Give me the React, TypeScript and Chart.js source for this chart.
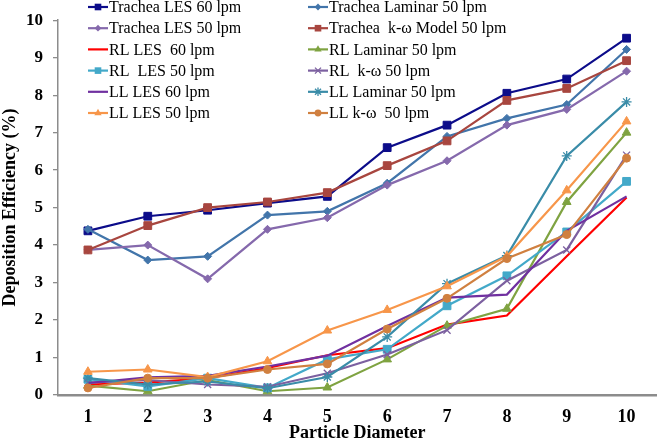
import React, { useEffect, useRef } from "react";
import { Chart, registerables } from "chart.js";

Chart.register(...registerables);

const categories = ["1", "2", "3", "4", "5", "6", "7", "8", "9", "10"];
const yTicks = [0, 1, 2, 3, 4, 5, 6, 7, 8, 9, 10];

const trLES60 = [4.38, 4.77, 4.93, 5.12, 5.30, 6.60, 7.20, 8.05, 8.43, 9.52];
const trLam50 = [4.42, 3.60, 3.70, 4.80, 4.90, 5.65, 6.90, 7.38, 7.75, 9.22];
const trLES50 = [3.87, 4.00, 3.10, 4.42, 4.73, 5.60, 6.25, 7.20, 7.62, 8.64];
const trKw50 = [3.87, 4.52, 5.00, 5.15, 5.40, 6.12, 6.78, 7.86, 8.18, 8.92];
const rlLES60 = [0.28, 0.33, 0.45, 0.72, 1.06, 1.25, 1.88, 2.12, 3.70, 5.27];
const rlLam50 = [0.25, 0.10, 0.40, 0.10, 0.20, 0.95, 1.85, 2.30, 5.15, 7.00];
const rlLES50 = [0.42, 0.23, 0.45, 0.19, 0.95, 1.22, 2.38, 3.18, 4.35, 5.70];
const rlKw50 = [0.33, 0.40, 0.28, 0.22, 0.58, 1.08, 1.73, 3.05, 3.87, 6.40];
const llLES60 = [0.32, 0.47, 0.51, 0.76, 1.05, 1.84, 2.60, 2.68, 4.38, 5.30];
const llLam50 = [0.45, 0.28, 0.36, 0.18, 0.48, 1.55, 2.97, 3.72, 6.38, 7.82];
const llLES50 = [0.62, 0.68, 0.48, 0.90, 1.72, 2.27, 2.90, 3.70, 5.46, 7.30];
const llKw50 = [0.19, 0.45, 0.45, 0.68, 0.83, 1.76, 2.58, 3.64, 4.28, 6.32];

const seriesLabels = [
  "Trachea LES 60 lpm",
  "Trachea Laminar 50 lpm",
  "Trachea LES 50 lpm",
  "Trachea  k-\u03c9 Model 50 lpm",
  "RL LES  60 lpm",
  "RL Laminar 50 lpm",
  "RL  LES 50 lpm",
  "RL  k-\u03c9 50 lpm",
  "LL LES 60 lpm",
  "LL Laminar 50 lpm",
  "LL LES 50 lpm",
  "LL k-\u03c9  50 lpm",
];
const seriesValues = [trLES60, trLam50, trLES50, trKw50, rlLES60, rlLam50, rlLES50, rlKw50, llLES60, llLam50, llLES50, llKw50];
const seriesColors = [
  "#0C0C8A", "#4275AA", "#8569AC", "#A8463F",
  "#FF0000", "#7FA341", "#43A9C9", "#7C60A0",
  "#7030A0", "#3A8CA8", "#F7964A", "#D08040",
];
const seriesMarkers = [
  "rect", "rectRot", "rectRot", "rect",
  "none", "triangle", "rect", "crossRot",
  "none", "star", "triangle", "circle",
];
const markerRadius: Record<string, number> = {
  rect: 5.5, rectRot: 4, triangle: 5, circle: 4, crossRot: 5, star: 5, none: 0,
};

function drawMarker(ctx: CanvasRenderingContext2D, style: string, x: number, y: number, r: number, color: string) {
  ctx.save();
  ctx.fillStyle = color;
  ctx.strokeStyle = color;
  ctx.lineWidth = 1.3;
  ctx.beginPath();
  if (style === "rect") {
    const s = r * Math.SQRT1_2;
    ctx.rect(x - s, y - s, 2 * s, 2 * s);
    ctx.fill();
  } else if (style === "rectRot") {
    ctx.moveTo(x, y - r);
    ctx.lineTo(x + r, y);
    ctx.lineTo(x, y + r);
    ctx.lineTo(x - r, y);
    ctx.closePath();
    ctx.fill();
  } else if (style === "triangle") {
    for (let i = 0; i < 3; i++) {
      const a = (i * 2 * Math.PI) / 3;
      const px = x + Math.sin(a) * r;
      const py = y - Math.cos(a) * r;
      if (i === 0) ctx.moveTo(px, py);
      else ctx.lineTo(px, py);
    }
    ctx.closePath();
    ctx.fill();
  } else if (style === "circle") {
    ctx.arc(x, y, r, 0, Math.PI * 2);
    ctx.fill();
  } else if (style === "crossRot" || style === "star") {
    const d = r * Math.SQRT1_2;
    ctx.moveTo(x - d, y - d);
    ctx.lineTo(x + d, y + d);
    ctx.moveTo(x - d, y + d);
    ctx.lineTo(x + d, y - d);
    if (style === "star") {
      ctx.moveTo(x, y - r);
      ctx.lineTo(x, y + r);
      ctx.moveTo(x - r, y);
      ctx.lineTo(x + r, y);
    }
    ctx.stroke();
  }
  ctx.restore();
}

const legendPlugin = {
  id: "gridLegend",
  afterDraw(chart: any) {
    const ctx: CanvasRenderingContext2D = chart.ctx;
    const colX = [88, 308];
    const rowY0 = 7;
    const rowStep = 21.2;
    ctx.save();
    ctx.font = '16px "Liberation Serif"';
    ctx.textBaseline = "middle";
    ctx.textAlign = "left";
    chart.data.datasets.forEach((ds: any, i: number) => {
      const col = i % 2;
      const row = Math.floor(i / 2);
      const x = colX[col];
      const y = rowY0 + row * rowStep;
      ctx.strokeStyle = ds.borderColor;
      ctx.lineWidth = 2.2;
      ctx.beginPath();
      ctx.moveTo(x, y);
      ctx.lineTo(x + 20, y);
      ctx.stroke();
      const st = seriesMarkers[i];
      if (st !== "none") drawMarker(ctx, st, x + 10, y, markerRadius[st] * 0.85, ds.borderColor);
      ctx.fillStyle = "#000";
      ctx.fillText(ds.label, x + 21, y + 1);
    });
    ctx.restore();
  },
};

export default function App() {
  const ref = useRef<HTMLCanvasElement>(null);
  useEffect(() => {
    if (!ref.current) return;
    const datasets = seriesLabels.map((label, i) => ({
      label,
      data: seriesValues[i],
      borderColor: seriesColors[i],
      backgroundColor: seriesColors[i],
      borderWidth: 2.2,
      pointStyle: seriesMarkers[i] === "none" ? false : seriesMarkers[i],
      pointRadius: markerRadius[seriesMarkers[i]],
      pointBorderWidth: seriesMarkers[i] === "crossRot" || seriesMarkers[i] === "star" ? 1.3 : 1,
      tension: 0,
      order: seriesLabels.length - i,
    }));
    const chart = new Chart(ref.current, {
      type: "line",
      data: { labels: categories, datasets: datasets as any },
      options: {
        animation: false,
        responsive: true,
        maintainAspectRatio: false,
        layout: { padding: { top: 14, right: 0, bottom: 0, left: 0 } },
        plugins: { legend: { display: false }, tooltip: { enabled: false } },
        scales: {
          x: {
            type: "category",
            offset: true,
            grid: { display: true, drawOnChartArea: false, drawTicks: false },
            border: { display: true, color: "#8C8C8C", width: 2.5 },
            ticks: {
              color: "#000",
              padding: 12,
              font: { family: '"Liberation Serif"', size: 18, weight: "bold" },
            },
            title: {
              display: true,
              text: "Particle Diameter",
              color: "#000",
              padding: { top: 0, bottom: 0 },
              font: { family: '"Liberation Serif"', size: 18, weight: "bold" },
            },
            afterFit: (s: any) => {
              s.height = 49;
            },
          },
          y: {
            min: 0,
            max: 10,
            afterBuildTicks: (s: any) => {
              s.ticks = yTicks.map((v) => ({ value: v }));
            },
            grid: { display: true, drawOnChartArea: false, drawTicks: true, tickLength: 5, color: "#8C8C8C", lineWidth: 1.3 },
            border: { display: true, color: "#8C8C8C", width: 1.5 },
            ticks: {
              color: "#000",
              padding: 10,
              font: { family: '"Liberation Serif"', size: 17, weight: "bold" },
            },
            title: {
              display: true,
              text: "Deposition Efficiency (%)",
              color: "#000",
              padding: { top: 0, bottom: 0 },
              font: { family: '"Liberation Serif"', size: 18, weight: "bold" },
            },
            afterFit: (s: any) => {
              s.width = 58;
            },
          },
        },
      },
      plugins: [legendPlugin],
    });
    return () => chart.destroy();
  }, []);
  return (
    <div style={{ position: "fixed", left: 0, top: 0, width: 663, height: 444, background: "#fff" }}>
      <canvas ref={ref} />
    </div>
  );
}
